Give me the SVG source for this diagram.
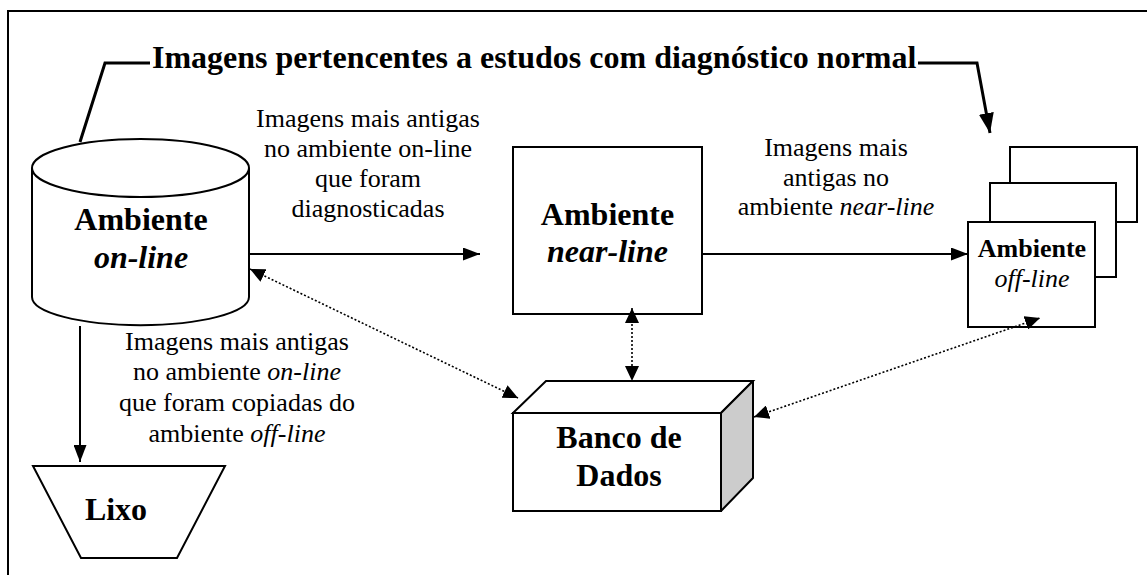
<svg xmlns="http://www.w3.org/2000/svg" width="1147" height="575" viewBox="0 0 1147 575">
<style>
  .shape { fill: #fff; stroke: #000; stroke-width: 2; }
  .solid { fill: none; stroke: #000; stroke-width: 2; }
  .thick { fill: none; stroke: #000; stroke-width: 3; }
  .dot { fill: none; stroke: #000; stroke-width: 1.6; stroke-dasharray: 2 2; }
  .big { font-family: "Liberation Serif", "Times New Roman", serif; font-size: 32px; font-weight: bold; fill: #000; text-anchor: middle; }
  .lbl { font-family: "Liberation Serif", "Times New Roman", serif; font-size: 26px; fill: #000; text-anchor: middle; }
  .it { font-style: italic; }
</style>
<defs>
  <marker id="ah" viewBox="0 0 17 13" refX="17" refY="6.5" markerWidth="17" markerHeight="13" markerUnits="userSpaceOnUse" orient="auto">
    <path d="M0,0 L17,6.5 L0,13 z" fill="#000"/>
  </marker>
  <marker id="ahBig" viewBox="0 0 20 15" refX="20" refY="7.5" markerWidth="20" markerHeight="15" markerUnits="userSpaceOnUse" orient="auto">
    <path d="M0,0 L20,7.5 L0,15 z" fill="#000"/>
  </marker>
  <marker id="ahd" viewBox="0 0 15 14" refX="15" refY="7" markerWidth="15" markerHeight="14" markerUnits="userSpaceOnUse" orient="auto-start-reverse">
    <path d="M0,0 L15,7 L0,14 z" fill="#000"/>
  </marker>
</defs>
<rect x="0" y="0" width="1147" height="575" fill="#fff"/>
<path d="M8,575 L8,11 L1147,11" fill="none" stroke="#000" stroke-width="2"/>

<g id="title">
  <text x="152" y="68" class="big" style="text-anchor:start">Imagens pertencentes a estudos com diagnóstico normal</text>
</g>

<g id="online">
  <path class="shape" d="M32,168 L32,297 A108,28 0 0 0 249,297 L249,168"/>
  <ellipse class="shape" cx="140.5" cy="168" rx="108.5" ry="29"/>
  <text x="141" y="230" class="big">Ambiente</text>
  <text x="141" y="268" class="big it">on-line</text>
</g>

<g id="nearline">
  <rect class="shape" x="513" y="147" width="189" height="167"/>
  <text x="607.5" y="225" class="big">Ambiente</text>
  <text x="607.5" y="262" class="big it">near-line</text>
</g>

<g id="offline">
  <rect class="shape" x="1010" y="147" width="127" height="75"/>
  <rect class="shape" x="990" y="183" width="126" height="94"/>
  <rect class="shape" x="968" y="222" width="127" height="105"/>
  <text x="1032" y="257" class="big" style="font-size:26px">Ambiente</text>
  <text x="1032" y="287" class="lbl it">off-line</text>
</g>

<g id="banco">
  <path class="shape" d="M513,413 L546,381 L753,381 L721,413 Z"/>
  <path d="M721,413 L753,381 L753,478 L721,511 Z" fill="#cccccc" stroke="#000" stroke-width="2" stroke-linejoin="round"/>
  <rect class="shape" x="513" y="413" width="208" height="98"/>
  <text x="619" y="448" class="big">Banco de</text>
  <text x="619" y="486" class="big">Dados</text>
</g>

<g id="lixo">
  <path class="shape" d="M33,466 L225,466 L177,558 L81,558 Z"/>
  <text x="116" y="520" class="big">Lixo</text>
</g>

<g id="labels">
  <text class="lbl" x="368"><tspan x="368" y="127">Imagens mais antigas</tspan><tspan x="368" y="157">no ambiente on-line</tspan><tspan x="368" y="187">que foram</tspan><tspan x="368" y="217">diagnosticadas</tspan></text>
  <text class="lbl" x="836"><tspan x="836" y="156">Imagens mais</tspan><tspan x="836" y="186">antigas no</tspan><tspan x="836" y="215">ambiente <tspan class="it">near-line</tspan></tspan></text>
  <text class="lbl" x="237"><tspan x="237" y="350">Imagens mais antigas</tspan><tspan x="237" y="380">no ambiente <tspan class="it">on-line</tspan></tspan><tspan x="237" y="411">que foram copiadas do</tspan><tspan x="237" y="442">ambiente <tspan class="it">off-line</tspan></tspan></text>
</g>

<g id="connectors">
  <path class="thick" d="M80,142 L105,63 L150,63"/>
  <path class="thick" d="M918,63 L977,63 L990,133" marker-end="url(#ahBig)"/>
  <line class="solid" x1="249" y1="254" x2="480" y2="254" marker-end="url(#ah)"/>
  <line class="solid" x1="702" y1="254" x2="968" y2="254" marker-end="url(#ah)"/>
  <line class="solid" x1="80" y1="326" x2="80" y2="462" marker-end="url(#ah)"/>
  <line class="dot" x1="632" y1="308" x2="632" y2="381" marker-start="url(#ahd)" marker-end="url(#ahd)"/>
  <line class="dot" x1="250" y1="269" x2="518" y2="398" marker-start="url(#ahd)" marker-end="url(#ahd)"/>
  <line class="dot" x1="754" y1="417" x2="1040" y2="318" marker-start="url(#ahd)" marker-end="url(#ahd)"/>
</g>
</svg>
